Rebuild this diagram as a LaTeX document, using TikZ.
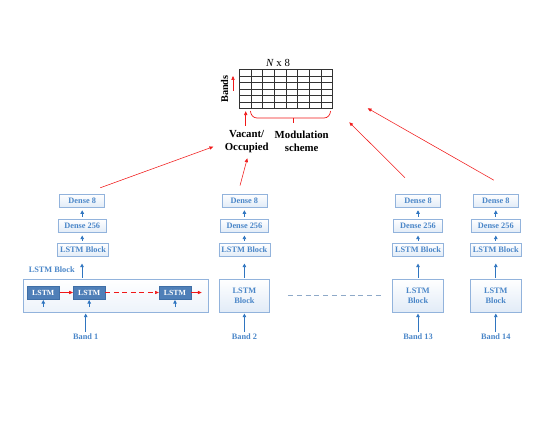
\documentclass[tikz,border=0pt]{standalone}
\usepackage{fontspec}
\setmainfont{Liberation Serif}
\usetikzlibrary{arrows.meta}
\definecolor{txtblue}{HTML}{4A86C8}
\definecolor{boxline}{HTML}{92B3DC}
\definecolor{boxfill}{HTML}{E1EBF7}
\definecolor{darkfill}{HTML}{4F7FB8}
\definecolor{darkline}{HTML}{3E6EA6}
\definecolor{arrblue}{HTML}{2F75C0}
\definecolor{dashblue}{HTML}{8EA9C8}
\definecolor{redc}{HTML}{F01818}
\begin{document}
\begin{tikzpicture}[x=1pt,y=-1pt,
  small/.style={font=\fontsize{8.3}{9.8}\selectfont\bfseries},
  box/.style={small, draw=boxline, line width=0.6pt, top color=white, bottom color=boxfill, text=txtblue, inner sep=0pt, minimum height=13.5pt},
  bigbox/.style={box, minimum width=50.5pt, minimum height=33pt, align=center},
  dark/.style={font=\fontsize{7.8}{9}\selectfont\bfseries, draw=darkline, fill=darkfill, text=white, inner sep=0pt, minimum width=32pt, minimum height=13pt},
  lbl/.style={small, text=txtblue, inner sep=0pt},
  barr/.style={draw=arrblue, line width=0.75pt, -{Triangle[length=3.5pt,width=3.5pt]}},
  rarr/.style={draw=redc, line width=0.55pt, -{Triangle[length=3.8pt,width=3.2pt]}},
  big/.style={font=\fontsize{10.8}{12.7}\selectfont\bfseries, align=center, inner sep=0pt}
]
\useasboundingbox (0,0) rectangle (545,421);

% ---------- top matrix ----------
\node[draw=black!80, line width=0.6pt, minimum width=93.4pt, minimum height=39pt, inner sep=0pt] (grid) at (286,88.8) {};
\foreach \i in {1,...,7} \draw[black!80, line width=0.6pt] (239.3+\i*11.675,69.3) -- ++(0,39);
\foreach \j in {1,...,5} \draw[black!80, line width=0.6pt] (239.3,69.3+\j*6.5) -- ++(93.4,0);
\node[font=\fontsize{10.8}{12}\selectfont, inner sep=0pt] (nx8) at (278,62.5) {\textit{N} x 8};
\node[rotate=90, font=\fontsize{10.3}{12}\selectfont\bfseries, inner sep=0pt] (bands) at (224.5,89) {Bands};
\coordinate (bup0) at (233,90.5);
\coordinate (bup1) at (233,76);
\draw[rarr] (bup0) -- (bup1);
\coordinate (vo0) at (245.7,125.5);
\coordinate (vo1) at (245.7,111.2);
\draw[rarr] (vo0) -- (vo1);
\coordinate (br0) at (250.5,111);
\coordinate (br1) at (330.5,111);
\draw[redc, line width=0.7pt] (br0) to[out=-90,in=180] (257,118) -- (324,118) to[out=0,in=-90] (br1);
\coordinate (brm) at (293,118);
\coordinate (brt) at (293,123);
\draw[redc, line width=0.7pt] (brm) -- (brt);
\node[big] (vac) at (246.7,141.3) {Vacant/\\Occupied};
\node[big] (mod) at (301.7,141.3) {Modulation\\scheme};

% ---------- column 1 ----------
\node[box, minimum width=45pt] (d8a) at (82.2,200.7) {Dense 8};
\node[box, minimum width=48.5pt] (d256a) at (82.2,226) {Dense 256};
\node[box, minimum width=51pt] (lba) at (83,250) {LSTM Block};
\node[draw=boxline, line width=0.6pt, top color=white, bottom color=boxfill!60, minimum width=185pt, minimum height=33pt, inner sep=0pt] (biga) at (115.8,295.8) {};
\node[lbl] (lbla) at (51.7,270) {LSTM Block};
\node[dark] (l1) at (43.3,292.5) {LSTM};
\node[dark] (l2) at (89.2,292.5) {LSTM};
\node[dark] (l3) at (175,292.5) {LSTM};
\coordinate (lout) at (201.7,292.5);
\draw[rarr] (l1) -- (l2);
\draw[rarr, dash pattern=on 5pt off 3.5pt] (l2) -- (l3);
\draw[rarr] (l3) -- (lout);
\foreach \n in {l1,l2,l3}{
  \coordinate (\n in) at ([yshift=-8pt]\n.south);
  \draw[barr, shorten >=0.8pt] (\n in) -- (\n.south);
}
\node[lbl] (band1) at (85.7,337) {Band 1};
\draw[barr, shorten <=2pt, shorten >=1pt] (band1.north) -- (band1.north |- biga.south);
\draw[barr, shorten <=1.5pt, shorten >=6.5pt] (biga.north -| lba.south) ++(-1,0) coordinate (ua) (ua) -- (ua |- lba.south);
\draw[barr, shorten <=2.2pt, shorten >=2.5pt] (lba.north -| d256a) -- (d256a.south);
\draw[barr, shorten <=2.2pt, shorten >=2.5pt] (d256a.north) -- (d8a.south);

% ---------- columns 2, 13, 14 ----------
\foreach \c/\x/\b in {b/244.4/2, c/418/13, d/495.8/14}{
  \node[box, minimum width=45pt] (d8\c) at (\x,200.7) {Dense 8};
  \node[box, minimum width=48.5pt] (d256\c) at (\x,226) {Dense 256};
  \node[box, minimum width=51pt] (lb\c) at (\x,250) {LSTM Block};
  \node[bigbox] (big\c) at (\x,295.8) {LSTM\\Block};
  \node[lbl] (band\c) at (\x,337) {Band \b};
  \draw[barr, shorten <=2pt, shorten >=1pt] (band\c.north) -- (big\c.south);
  \draw[barr, shorten <=1.5pt, shorten >=6.5pt] (big\c.north) -- (lb\c.south);
  \draw[barr, shorten <=2.2pt, shorten >=2.5pt] (lb\c.north) -- (d256\c.south);
  \draw[barr, shorten <=2.2pt, shorten >=2.5pt] (d256\c.north) -- (d8\c.south);
}
\draw[dashblue, line width=0.7pt, dash pattern=on 5pt off 3.8pt] ([xshift=18pt]bigb.east) -- ([xshift=-11pt]bigc.west);

% ---------- red outputs ----------
\coordinate (t1) at (213.3,146.7);
\coordinate (t2) at (247.3,158.3);
\coordinate (t3) at (349.3,122.3);
\coordinate (t4) at (367.7,108.3);
\draw[rarr] ([xshift=-4.7pt,yshift=5.9pt]d8a.north east) -- (t1);
\draw[rarr] ([xshift=-4.4pt,yshift=8pt]d8b.north) -- (t2);
\draw[rarr] ([xshift=-13pt,yshift=16pt]d8c.north) -- (t3);
\draw[rarr] ([xshift=-2pt,yshift=13.5pt]d8d.north) -- (t4);
\end{tikzpicture}
\end{document}
